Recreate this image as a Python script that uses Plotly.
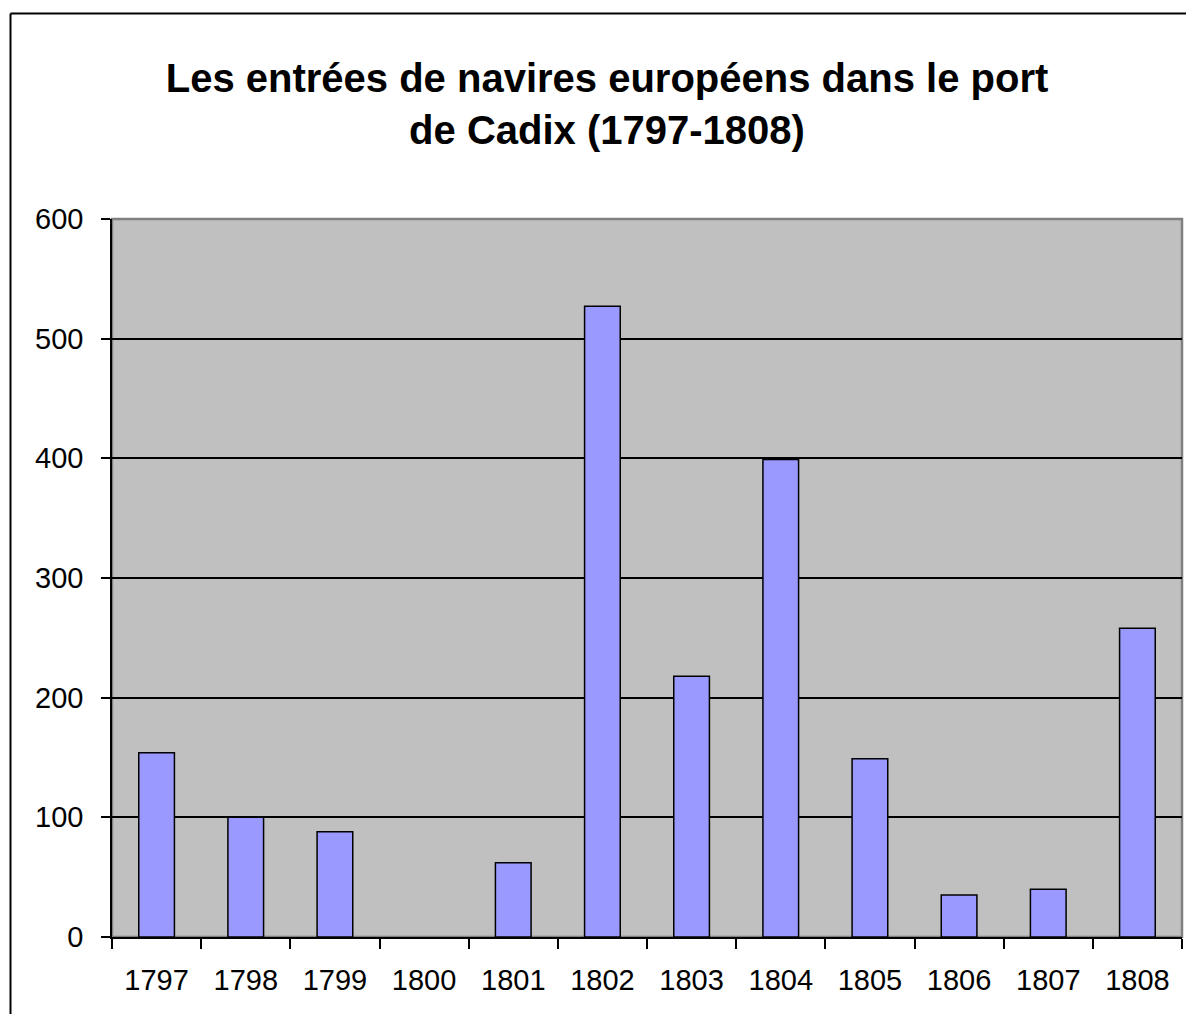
import plotly.graph_objects as go

years = ["1797", "1798", "1799", "1800", "1801", "1802", "1803", "1804", "1805", "1806", "1807", "1808"]
ships = [154, 100, 88, 0, 62, 527, 218, 399, 149, 35, 40, 258]
y_ticks = [0, 100, 200, 300, 400, 500, 600]

W, H = 1186, 1014
L, T = 112, 219
pw, ph = 1070, 718
R = W - L - pw
B = H - T - ph

fig = go.Figure(go.Bar(
    x=years, y=ships,
    marker=dict(color="#9999FF",
                line=dict(color="black", width=[1.5 if v > 0 else 0 for v in ships])),
    width=0.4,
))

def px_to_paper_x(px):
    return (px - L) / pw

def px_to_paper_y(py):
    return (T + ph - py) / ph

fig.update_layout(
    width=W, height=H,
    margin=dict(l=L, r=R, t=T, b=B),
    paper_bgcolor="white",
    plot_bgcolor="#C0C0C0",
    showlegend=False,
    font=dict(family="Liberation Sans, Arial, sans-serif", color="black", size=29),
    title=dict(
        text="<b>Les entrées de navires européens dans le port<br>de Cadix (1797-1808)</b>",
        x=607 / W, xanchor="center", xref="container",
        y=1 - 92 / H, yanchor="top", yref="container",
        font=dict(size=40, family="Liberation Sans, Arial, sans-serif", color="black"),
    ),
    xaxis=dict(
        type="category", tickson="boundaries", ticks="outside", ticklen=10,
        tickcolor="black", tickwidth=1.5, ticklabelstandoff=16,
        showline=True, linecolor="black", linewidth=1.5,
        showgrid=False, tickfont=dict(size=29),
    ),
    yaxis=dict(
        range=[0, 600], tickvals=y_ticks, ticks="outside", ticklen=9,
        tickcolor="black", tickwidth=1.5, ticklabelstandoff=12,
        showline=True, linecolor="black", linewidth=1.5,
        showgrid=True, gridcolor="black", gridwidth=1.5,
        zeroline=False, tickfont=dict(size=29),
    ),
    shapes=[
        dict(type="rect", xref="paper", yref="paper", x0=0, x1=1, y0=0, y1=1,
             line=dict(color="#808080", width=2.5), layer="below"),
        dict(type="line", xref="paper", yref="paper",
             x0=px_to_paper_x(10.5), x1=px_to_paper_x(1186),
             y0=px_to_paper_y(13.5), y1=px_to_paper_y(13.5),
             line=dict(color="black", width=2)),
        dict(type="line", xref="paper", yref="paper",
             x0=px_to_paper_x(10.5), x1=px_to_paper_x(10.5),
             y0=px_to_paper_y(13.5), y1=px_to_paper_y(1014),
             line=dict(color="black", width=2)),
    ],
)

fig.write_html(
    "out.html",
    config={"displayModeBar": False},
    post_script=(
        "document.body.style.margin='0';"
        "document.body.style.overflow='hidden';"
        "document.documentElement.style.overflow='hidden';"
    ),
)
